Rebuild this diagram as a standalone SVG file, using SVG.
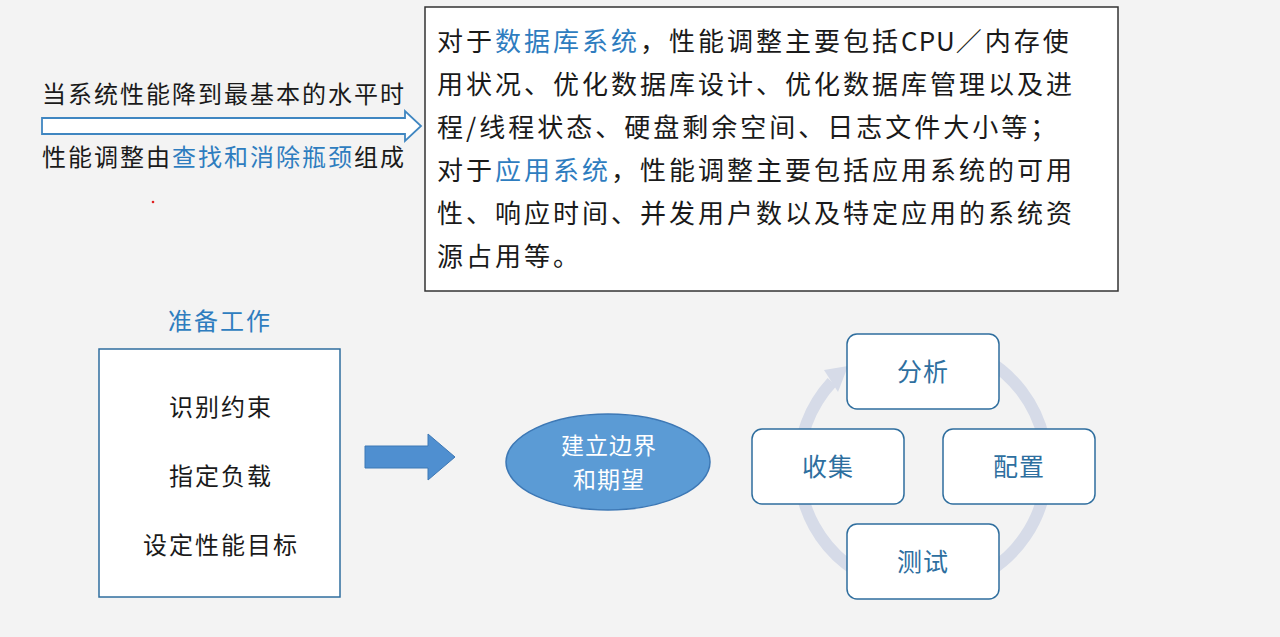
<svg xmlns="http://www.w3.org/2000/svg" width="1280" height="637" viewBox="0 0 1280 637">
<style>
text{font-family:"Noto Sans CJK SC","Noto Sans",sans-serif;}
.t{font-size:24px;fill:#1a1a1a;letter-spacing:2px}
.i{font-size:26px;fill:#1a1a1a;letter-spacing:3px}
.b{fill:#2e7dbf}
.node{fill:#fff;stroke:#2f6e9e;stroke-width:1.5}
.nt{font-size:25px;fill:#2e6f9f;text-anchor:middle;letter-spacing:1px}
.lt{font-size:24px;fill:#1a1a1a;text-anchor:middle;letter-spacing:2px}
</style>
<rect width="1280" height="637" fill="#f3f3f3"/>
<g id="intro">
<text class="t" x="42" y="103">当系统性能降到最基本的水平时</text>
<text class="t" x="42" y="166">性能调整由<tspan class="b">查找和消除瓶颈</tspan>组成</text>
<circle cx="153" cy="202" r="1.3" fill="#e02020"/>
</g>
<g id="connectors">
<path d="M42,118 H405 V111 L421,126 L405,141 V134 H42 Z" fill="#fff" stroke="#3f86c1" stroke-width="1.8"/>
<path d="M365,446 H428 V434 L455,457 L428,480 V468 H365 Z" fill="#4f8fd0" stroke="#3d78b5" stroke-width="1"/>
<path d="M985,359 A124,124 0 1 1 832,382" fill="none" stroke="#d6dbe8" stroke-width="12"/>
<polygon points="824,370 848,366 838,392" fill="#d6dbe8"/>
</g>
<g id="infobox">
<rect x="425" y="7" width="693" height="284" fill="#fff" stroke="#333" stroke-width="1.5"/>
<text class="i" x="437" y="51">对于<tspan class="b">数据库系统</tspan>，性能调整主要包括<tspan letter-spacing="1">CPU</tspan>／内存使</text>
<text class="i" x="437" y="94">用状况、优化数据库设计、优化数据库管理以及进</text>
<text class="i" x="437" y="137">程/线程状态、硬盘剩余空间、日志文件大小等；</text>
<text class="i" x="437" y="180">对于<tspan class="b">应用系统</tspan>，性能调整主要包括应用系统的可用</text>
<text class="i" x="437" y="223">性、响应时间、并发用户数以及特定应用的系统资</text>
<text class="i" x="437" y="266">源占用等。</text>
</g>
<g id="prep">
<text x="220" y="330" font-size="24" letter-spacing="2" fill="#2e7dbf" text-anchor="middle">准备工作</text>
<rect x="99" y="349" width="241" height="248" fill="#fff" stroke="#2f6e9e" stroke-width="1.5"/>
<text class="lt" x="221" y="416">识别约束</text>
<text class="lt" x="221" y="485">指定负载</text>
<text class="lt" x="221" y="554">设定性能目标</text>
</g>
<g id="boundary">
<ellipse cx="608" cy="462" rx="102" ry="48" fill="#5b9bd5" stroke="#3d78b5" stroke-width="1.5"/>
<text x="609" y="454" font-size="23" letter-spacing="1" fill="#fff" text-anchor="middle">建立边界</text>
<text x="609" y="488" font-size="23" letter-spacing="1" fill="#fff" text-anchor="middle">和期望</text>
</g>
<g id="n-analyze"><rect class="node" x="847" y="334" width="152" height="75" rx="10"/><text class="nt" x="923" y="381">分析</text></g>
<g id="n-collect"><rect class="node" x="752" y="429" width="152" height="75" rx="10"/><text class="nt" x="828" y="476">收集</text></g>
<g id="n-config"><rect class="node" x="943" y="429" width="152" height="75" rx="10"/><text class="nt" x="1019" y="476">配置</text></g>
<g id="n-test"><rect class="node" x="847" y="524" width="152" height="75" rx="10"/><text class="nt" x="923" y="571">测试</text></g>
</svg>
